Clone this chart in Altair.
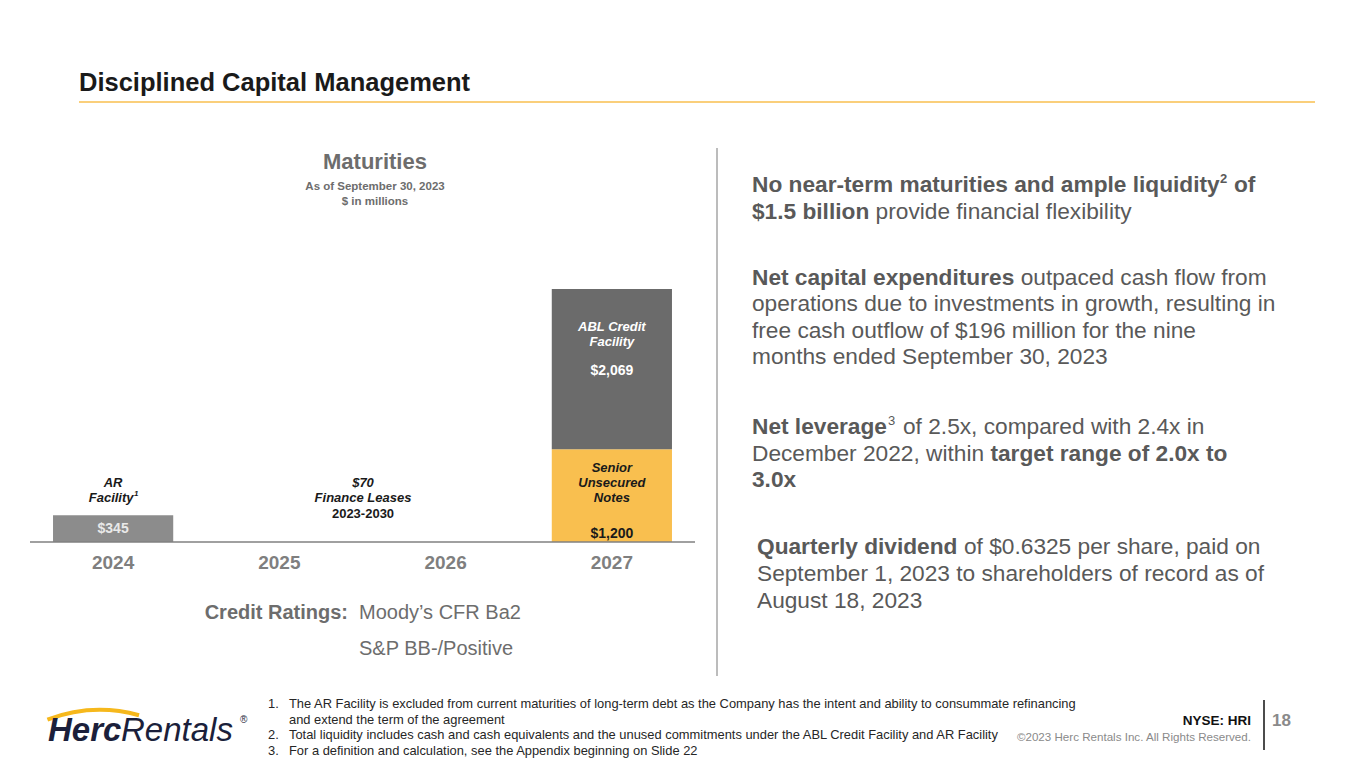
import altair as alt
import pandas as pd

FONT = "Liberation Sans, Arial, Helvetica, sans-serif"

# ---------------- data ----------------
years = ["2024", "2025", "2026", "2027"]
bar_years = ["2024", "2027", "2027"]
bar_segments = ["AR Facility", "Senior Unsecured Notes", "ABL Credit Facility"]
bar_values = [345, 1200, 2069]
seg_colors = ["#8c8c8c", "#f9bf4f", "#6b6b6b"]
finance_leases = 70

bars_df = pd.DataFrame({"year": bar_years, "segment": bar_segments, "value": bar_values})
years_df = pd.DataFrame({"year": years})
ONE = alt.Data(values=[{}])

xscale = alt.Scale(domain=years, range=[22, 687], paddingInner=0.277, paddingOuter=0.1385)
yscale = alt.Scale(domain=[0, 3269], range=[534, 281], nice=False, zero=True)


def T(s, x, y, size, color="#595959", weight="normal", style="normal", align="left"):
    return alt.Chart(ONE).mark_text(
        text=s, align=align, baseline="alphabetic", fontSize=size,
        fontWeight=weight, fontStyle=style, color=color, font=FONT
    ).encode(x=alt.value(x - 8), y=alt.value(y - 8))


def R(x1, y1, x2, y2, color, w):
    return alt.Chart(ONE).mark_rule(color=color, strokeWidth=w).encode(
        x=alt.value(x1 - 8), x2=alt.value(x2 - 8), y=alt.value(y1 - 8), y2=alt.value(y2 - 8)
    )


layers = []

# header
layers.append(T("Disciplined Capital Management", 79, 91, 25.5, "#1a1a1a", "bold"))
layers.append(R(79, 102, 1315, 102, "#f9bf4f", 1.5))
layers.append(R(717, 148, 717, 676, "#a6a6a6", 1.5))

# chart titles
layers.append(T("Maturities", 375, 169, 22, "#6d6d6d", "bold", align="center"))
layers.append(T("As of September 30, 2023", 375, 190, 11.5, "#6d6d6d", "bold", align="center"))
layers.append(T("$ in millions", 375, 205, 11.5, "#6d6d6d", "bold", align="center"))

# bars
bars = alt.Chart(bars_df).mark_bar().encode(
    x=alt.X("year:N", scale=xscale, axis=None),
    y=alt.Y("value:Q", stack="zero", scale=yscale, axis=None),
    color=alt.Color("segment:N", scale=alt.Scale(domain=bar_segments, range=seg_colors), legend=None),
    order=alt.Order("segment:N", sort="descending"),
)
layers.append(bars)

# baseline
layers.append(R(30, 542, 695, 542, "#808080", 1.5))

# year labels
layers.append(
    alt.Chart(years_df).mark_text(
        baseline="alphabetic", fontSize=19, fontWeight="bold", color="#7f7f7f", font=FONT
    ).encode(x=alt.X("year:N", scale=xscale, axis=None), y=alt.value(569 - 8), text="year:N")
)


def val_label(seg, ybase, color):
    return alt.Chart(bars_df).transform_filter(alt.datum.segment == seg).mark_text(
        baseline="alphabetic", fontSize=14, fontWeight="bold", color=color, font=FONT
    ).encode(
        x=alt.X("year:N", scale=xscale, axis=None),
        y=alt.value(ybase - 8),
        text=alt.Text("value:Q", format="$,d"),
    )


def seg_label(seg, s, ybase, color, dx=0, size=13, style="italic"):
    return alt.Chart(bars_df).transform_filter(alt.datum.segment == seg).mark_text(
        text=s, baseline="alphabetic", fontSize=size, fontWeight="bold", fontStyle=style,
        color=color, font=FONT, dx=dx
    ).encode(x=alt.X("year:N", scale=xscale, axis=None), y=alt.value(ybase - 8))


layers += [
    val_label("AR Facility", 533, "#e9e9e9"),
    val_label("Senior Unsecured Notes", 538, "#1a1a1a"),
    val_label("ABL Credit Facility", 375, "#ffffff"),
    seg_label("ABL Credit Facility", "ABL Credit", 331, "#ffffff"),
    seg_label("ABL Credit Facility", "Facility", 346, "#ffffff"),
    seg_label("Senior Unsecured Notes", "Senior", 472, "#1a1a1a"),
    seg_label("Senior Unsecured Notes", "Unsecured", 487, "#1a1a1a"),
    seg_label("Senior Unsecured Notes", "Notes", 502, "#1a1a1a"),
    seg_label("AR Facility", "AR", 487, "#1a1a1a"),
    seg_label("AR Facility", "Facility", 502, "#1a1a1a", dx=-2),
    seg_label("AR Facility", "1", 496, "#1a1a1a", dx=23, size=8),
]

# finance leases annotation
layers.append(T("$" + str(finance_leases), 363, 487, 13, "#1a1a1a", "bold", "italic", "center"))
layers.append(T("Finance Leases", 363, 502, 13, "#1a1a1a", "bold", "italic", "center"))
layers.append(T("2023-2030", 363, 518, 13, "#1a1a1a", "bold", "normal", "center"))

# credit ratings
layers.append(T("Credit Ratings:", 348, 619, 20, "#6d6d6d", "bold", align="right"))
layers.append(T("Moody\u2019s CFR Ba2", 359, 619, 20, "#6d6d6d"))
layers.append(T("S&P BB-/Positive", 359, 655, 20, "#6d6d6d"))

# right-hand text
FS = 22.7
C = "#595959"
layers += [
    T("No near-term maturities and ample liquidity", 752, 192, FS, C, "bold"),
    T("2", 1220, 183, 13, C, "bold"),
    T("of", 1234, 192, FS, C, "bold"),
    T("$1.5 billion", 752, 219, FS, C, "bold"),
    T("provide financial flexibility", 875.6, 219, FS, C),
    T("Net capital expenditures", 752, 285, FS, C, "bold"),
    T("outpaced cash flow from", 1020.7, 285, FS, C),
    T("operations due to investments in growth, resulting in", 752, 311, FS, C),
    T("free cash outflow of $196 million for the nine", 752, 338, FS, C),
    T("months ended September 30, 2023", 752, 364, FS, C),
    T("Net leverage", 752, 434, FS, C, "bold"),
    T("3", 888, 425, 13, C),
    T("of 2.5x,  compared with 2.4x in", 903, 434, FS, C),
    T("December 2022, within", 752, 461, FS, C),
    T("target range of 2.0x to", 990.4, 461, FS, C, "bold"),
    T("3.0x", 752, 487, FS, C, "bold"),
    T("Quarterly dividend", 757, 554, FS, C, "bold"),
    T("of $0.6325 per share, paid on", 964, 554, FS, C),
    T("September 1, 2023 to shareholders of record as of", 757, 581, FS, C),
    T("August 18, 2023", 757, 608, FS, C),
]

# footnotes
FN = 12.9
FC = "#262626"
layers += [
    T("1.", 268, 708, FN, FC),
    T("The AR Facility is excluded from current maturities of long-term debt as the Company has the intent and ability to consummate refinancing", 289, 708, FN, FC),
    T("and extend the term of the agreement", 289, 724, FN, FC),
    T("2.", 268, 739, FN, FC),
    T("Total liquidity includes cash and cash equivalents and the unused commitments under the ABL Credit Facility and AR Facility", 289, 739, FN, FC),
    T("3.", 268, 755, FN, FC),
    T("For a definition and calculation, see the Appendix beginning on Slide 22", 289, 755, FN, FC),
]

# footer right
layers += [
    T("NYSE: HRI", 1251, 725, 13.5, "#111111", "bold", align="right"),
    T("\u00a92023 Herc Rentals Inc.  All Rights Reserved.", 1251, 741, 11.6, "#8a8a8a", align="right"),
    R(1264, 700, 1264, 750, "#111111", 1.5),
    T("18", 1272, 726, 17, "#8a8a8a", "bold"),
]

# logo
swoosh = alt.Chart(ONE).mark_arc(
    radius=150, radius2=146, theta=5.92, theta2=6.55, color="#f6b81c"
).encode(x=alt.value(100 - 8), y=alt.value(858 - 8))
layers += [
    swoosh,
    T("Herc", 48, 741, 33, "#1b1f3b", "bold", "italic"),
    T("Rentals", 121, 741, 33, "#1b1f3b", "normal", "italic"),
    T("\u00ae", 240, 723, 10, "#1b1f3b"),
]

chart = alt.layer(*layers).properties(
    width=1349, height=753, padding=0,
    autosize=alt.AutoSizeParams(type="none"),
    background="white",
).configure_view(stroke=None)

chart.save("out.html", embed_options={"renderer": "svg", "actions": False})
